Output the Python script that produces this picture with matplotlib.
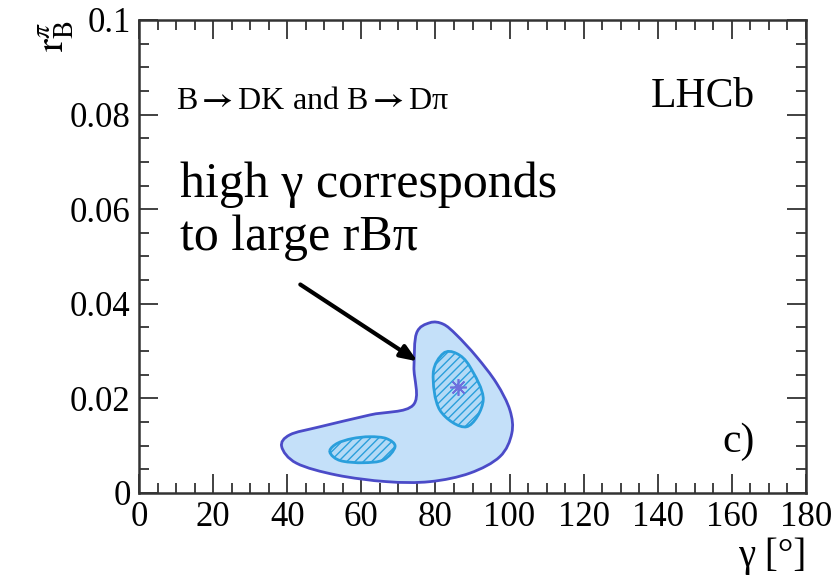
import matplotlib
matplotlib.use("Agg")
import matplotlib.pyplot as plt
import numpy as np
from matplotlib.path import Path
from matplotlib.patches import PathPatch
from matplotlib.ticker import MultipleLocator, FixedLocator, FixedFormatter

plt.rcParams['font.family'] = ['Liberation Serif', 'DejaVu Serif']
plt.rcParams['mathtext.fontset'] = 'stix'
plt.rcParams['hatch.linewidth'] = 1.0

# outer (95%) contour in (gamma [deg], r_B^pi)
outer_g = [78.5, 82.1, 85.7, 91.1, 96.5, 100.1, 100.6, 97.4, 89.3, 78.5, 66.8,
           53.3, 42.5, 38.5, 40.7, 48.8, 62.3, 74.0, 74.2, 74.9]
outer_r = [0.0360, 0.0357, 0.0334, 0.0288, 0.0232, 0.0175, 0.0126, 0.0077, 0.0042,
           0.0024, 0.0024, 0.0038, 0.0063, 0.0098, 0.0123, 0.0140, 0.0165, 0.0186,
           0.0267, 0.0338]

# inner (68%) islands
upper_g = [82.1, 85.7, 89.3, 92.9, 88.4, 81.2, 79.4]
upper_r = [0.0295, 0.0295, 0.0267, 0.0197, 0.0140, 0.0175, 0.0253]
lower_g = [51.5, 53.5, 57.5, 62.3, 66.8, 69.1, 66.0, 60.5, 55.1, 52.5]
lower_r = [0.0090, 0.0105, 0.0115, 0.0119, 0.0115, 0.0098, 0.0070, 0.0064, 0.0067, 0.0076]

best_g, best_r = 86.2, 0.0225

xticks = [0, 20, 40, 60, 80, 100, 120, 140, 160, 180]
yticks = [0, 0.02, 0.04, 0.06, 0.08, 0.1]
ytick_labels = ['0', '0.02', '0.04', '0.06', '0.08', '0.1']


def closed_curve(xs, ys):
    # Catmull-Rom through the points, expressed as cubic Bezier segments
    p = np.column_stack([xs, ys])
    n = len(p)
    verts = [p[0]]
    codes = [Path.MOVETO]
    for i in range(n):
        p0, p1, p2, p3 = p[i - 1], p[i], p[(i + 1) % n], p[(i + 2) % n]
        c1 = p1 + (p2 - p0) / 6.0
        c2 = p2 - (p3 - p1) / 6.0
        verts += [c1, c2, p2]
        codes += [Path.CURVE4] * 3
    return Path(verts, codes)


fig = plt.figure(figsize=(8.34, 5.76), dpi=100)
ax = fig.add_axes([0.1667, 0.1441, 0.7997, 0.8212])

ax.add_patch(PathPatch(closed_curve(outer_g, outer_r), facecolor='#c4e0f9',
                       edgecolor='#4b4bc8', lw=2.0, zorder=2))
for g, r in [(upper_g, upper_r), (lower_g, lower_r)]:
    ax.add_patch(PathPatch(closed_curve(g, r), facecolor='#b3daf6',
                           edgecolor='#2a9fdc', lw=2.0, hatch='////', zorder=3))
ax.plot(best_g, best_r, marker=(8, 2, 0), ms=12, mew=1.2, color='#7070dd', zorder=4)

ax.set_xlim(0, 180)
ax.set_ylim(0, 0.1)
ax.xaxis.set_major_locator(FixedLocator(xticks))
ax.xaxis.set_minor_locator(MultipleLocator(5))
ax.yaxis.set_major_locator(FixedLocator(yticks))
ax.yaxis.set_major_formatter(FixedFormatter(ytick_labels))
ax.yaxis.set_minor_locator(MultipleLocator(0.005))
ax.tick_params(which='both', direction='in', top=True, right=True,
               color='#333333', labelsize=25, width=1.3)
ax.tick_params(which='major', length=14, pad=6)
ax.tick_params(which='minor', length=7)
for s in ax.spines.values():
    s.set_linewidth(1.8)
    s.set_color('#333333')

ax.text(1.0, -0.155, 'γ [°]', transform=ax.transAxes, ha='right',
        va='baseline', fontsize=28)
ax.text(-0.155, 1.0, r'$\mathrm{r}_{\mathrm{B}}^{\pi}$', transform=ax.transAxes,
        rotation=90, ha='left', va='top', fontsize=28)

ax.text(0.055, 0.812, r'B$\mathbf{\rightarrow}$DK and B$\mathbf{\rightarrow}$Dπ',
        transform=ax.transAxes, fontsize=23, va='baseline')
ax.text(0.9235, 0.816, 'LHCb', transform=ax.transAxes, fontsize=30, ha='right', va='baseline')
ax.text(0.9235, 0.087, 'c)', transform=ax.transAxes, fontsize=30, ha='right', va='baseline')
ax.text(0.0615, 0.626, 'high γ corresponds', transform=ax.transAxes,
        fontsize=36, va='baseline')
ax.text(0.0615, 0.514, 'to large rBπ', transform=ax.transAxes,
        fontsize=36, va='baseline')

ax.annotate('', xy=(75.8, 0.0275), xytext=(42.9, 0.0444),
            arrowprops=dict(arrowstyle='-|>,head_length=1.0,head_width=0.4',
                            color='black', lw=3), zorder=5)

fig.savefig('out.png', dpi=100)
